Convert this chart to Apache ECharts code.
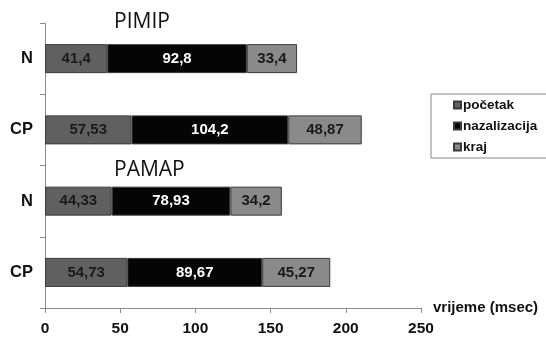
<!DOCTYPE html>
<html>
<head>
<meta charset="utf-8">
<script src="https://cdn.jsdelivr.net/npm/echarts@6/dist/echarts.min.js"></script>
<style>html,body{margin:0;padding:0;background:#fff}#c{width:546px;height:338px}</style>
</head>
<body>
<div id="c"></div>
<script>
var categories = ['N', 'CP', 'N', 'CP'];
var groupTitles = ['PIMIP', 'PAMAP'];
var seriesNames = ['početak', 'nazalizacija', 'kraj'];
var pocetak = [41.4, 57.53, 44.33, 54.73];
var nazalizacija = [92.8, 104.2, 78.93, 89.67];
var kraj = [33.4, 48.87, 34.2, 45.27];
var xTicks = [0, 50, 100, 150, 200, 250];
var xName = 'vrijeme (msec)';

var chart = echarts.init(document.getElementById('c'), null, {renderer: 'canvas'});
var labelFmt = function (p) { return String(p.value).replace('.', ','); };
function mk(name, data, color, textColor) {
  return {
    name: name, type: 'bar', stack: 'total', data: data, barWidth: 29,
    itemStyle: {color: color, borderColor: '#3a3a3a', borderWidth: 1},
    label: {show: true, position: 'inside', formatter: labelFmt, color: textColor,
      fontFamily: 'Liberation Sans', fontWeight: 'bold', fontSize: 15},
    emphasis: {disabled: true}
  };
}
chart.setOption({
  animation: false,
  backgroundColor: '#fff',
  title: [
    {text: groupTitles[0], left: 109, top: 7, textStyle: {fontFamily: 'Open Sans', fontWeight: 'normal', fontSize: 21, color: '#111'}},
    {text: groupTitles[1], left: 109, top: 155, textStyle: {fontFamily: 'Open Sans', fontWeight: 'normal', fontSize: 21, color: '#111'}}
  ],
  legend: {
    orient: 'vertical', left: 431, top: 94,
    data: seriesNames,
    itemWidth: 7, itemHeight: 7, itemGap: 7,
    icon: 'rect',
    padding: [4, 20, 4, 22],
    borderColor: '#888', borderWidth: 1,
    textStyle: {fontFamily: 'Liberation Sans', fontWeight: 'bold', fontSize: 13.5, color: '#111', padding: [0, 0, 0, -3]}
  },
  grid: {left: 45, right: 125, top: 23, bottom: 30, containLabel: false},
  xAxis: {
    type: 'value', min: xTicks[0], max: xTicks[xTicks.length - 1], interval: 50,
    name: xName, nameLocation: 'end', nameGap: 12,
    nameTextStyle: {fontFamily: 'Liberation Sans', fontWeight: 'bold', fontSize: 15, color: '#111', padding: [0, 0, 8, 0]},
    axisLine: {show: true, lineStyle: {color: '#8c8c8c'}},
    axisTick: {show: true, length: 5, lineStyle: {color: '#8c8c8c'}},
    axisLabel: {margin: 13, fontFamily: 'Liberation Sans', fontWeight: 'bold', fontSize: 15.5, color: '#111'},
    splitLine: {show: false}
  },
  yAxis: {
    type: 'category', inverse: true,
    data: [0, 1, 2, 3],
    axisLine: {show: true, lineStyle: {color: '#8c8c8c'}},
    axisTick: {show: true, length: 5, lineStyle: {color: '#8c8c8c'}},
    axisLabel: {margin: 12, formatter: function (v, i) { return categories[i]; },
      fontFamily: 'Liberation Sans', fontWeight: 'bold', fontSize: 16.5, color: '#111'}
  },
  series: [
    mk(seriesNames[0], pocetak, '#606060', '#1a1a1a'),
    mk(seriesNames[1], nazalizacija, '#050505', '#ffffff'),
    mk(seriesNames[2], kraj, '#8a8a8a', '#1a1a1a')
  ]
});
</script>
</body>
</html>
